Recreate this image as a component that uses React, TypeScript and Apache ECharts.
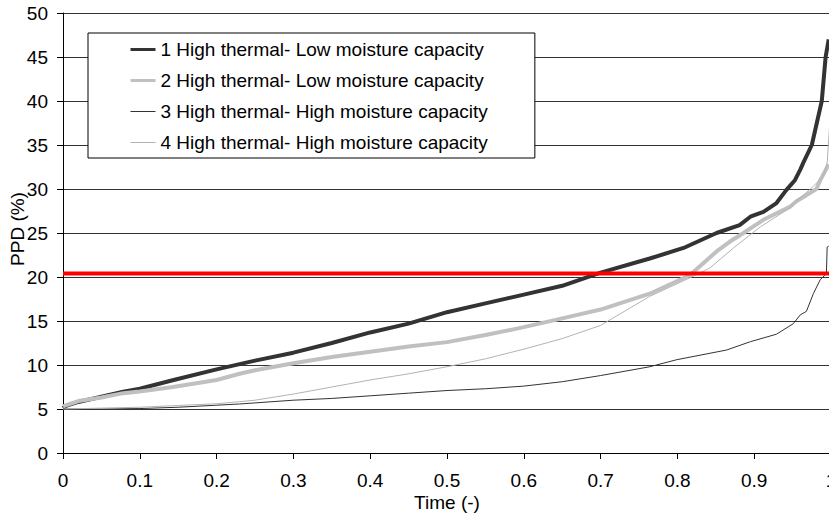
import React, { useEffect, useRef } from "react";
import * as echarts from "echarts";

const seriesNames = [
  "1 High thermal- Low moisture capacity",
  "2 High thermal- Low moisture capacity",
  "3 High thermal- High moisture capacity",
  "4 High thermal- High moisture capacity",
];

const time1 = [0, 0.005, 0.02, 0.05, 0.0785, 0.1, 0.144, 0.2, 0.23, 0.25, 0.3, 0.35, 0.4, 0.45, 0.5, 0.55, 0.6, 0.65, 0.7, 0.764, 0.808, 0.851, 0.881, 0.895, 0.912, 0.929, 0.942, 0.953, 0.96, 0.964, 0.975, 0.988, 0.993, 0.997];
const ppd1 = [5.1, 5.4, 5.8, 6.4, 6.97, 7.3, 8.3, 9.5, 10.1, 10.5, 11.4, 12.5, 13.7, 14.7, 16.0, 17.0, 18.0, 19.0, 20.5, 22.1, 23.3, 25.0, 25.9, 26.85, 27.4, 28.4, 29.9, 31.0, 32.2, 33.0, 35.0, 40.0, 45.0, 47.0];

const time2 = [0, 0.02, 0.05, 0.0785, 0.1, 0.143, 0.2, 0.23, 0.25, 0.3, 0.35, 0.4, 0.45, 0.5, 0.55, 0.6, 0.65, 0.7, 0.764, 0.816, 0.851, 0.868, 0.886, 0.912, 0.947, 0.955, 0.981, 0.986, 0.997];
const ppd2 = [5.3, 5.9, 6.3, 6.8, 7.0, 7.5, 8.3, 9.0, 9.4, 10.2, 10.9, 11.5, 12.1, 12.6, 13.4, 14.3, 15.3, 16.3, 18.1, 20.2, 22.9, 24.0, 25.0, 26.5, 28.0, 28.6, 30.0, 31.0, 32.8];

const time3 = [0, 0.05, 0.1, 0.15, 0.23, 0.3, 0.35, 0.4, 0.45, 0.5, 0.55, 0.6, 0.65, 0.7, 0.764, 0.799, 0.864, 0.895, 0.929, 0.951, 0.96, 0.968, 0.977, 0.986, 0.992, 0.994, 0.995, 0.997];
const ppd3 = [5.0, 5.0, 5.05, 5.2, 5.57, 6.0, 6.2, 6.5, 6.8, 7.1, 7.3, 7.6, 8.1, 8.8, 9.8, 10.6, 11.7, 12.65, 13.5, 14.7, 15.7, 16.1, 18.1, 19.7, 20.2, 20.4, 23.4, 23.5];

const time4 = [0, 0.05, 0.1, 0.15, 0.2, 0.23, 0.25, 0.3, 0.35, 0.4, 0.45, 0.5, 0.55, 0.6, 0.65, 0.7, 0.764, 0.816, 0.842, 0.873, 0.908, 0.942, 0.977, 0.99, 0.995, 0.998];
const ppd4 = [5.0, 5.1, 5.2, 5.4, 5.6, 5.83, 6.0, 6.7, 7.5, 8.3, 9.0, 9.8, 10.7, 11.8, 13.0, 14.5, 17.8, 19.9, 21.0, 23.3, 25.7, 27.6, 30.3, 31.5, 33.0, 37.0];

const limitTime = [0, 1];
const limitPPD = [20.4, 20.4];

const seriesColors = ["#333333", "#c0c0c0", "#333333", "#b3b3b3"];
const seriesWidths = [4, 4, 1, 1];
const legendWidths = [3, 3, 1, 1];

const times = [time1, time2, time3, time4];
const values = [ppd1, ppd2, ppd3, ppd4];

const FONT = "Liberation Sans, Arial, sans-serif";

export default function App() {
  const ref = useRef<HTMLDivElement>(null);

  useEffect(() => {
    if (!ref.current) return;
    const chart = echarts.init(ref.current, undefined, { renderer: "svg" });
    const lineSeries = seriesNames.map((name, i) => ({
      name,
      type: "line",
      data: times[i].map((t, j) => [t, values[i][j]]),
      symbol: "none",
      showSymbol: false,
      lineStyle: { color: seriesColors[i], width: seriesWidths[i] },
      itemStyle: { color: seriesColors[i] },
      silent: true,
      z: 2 + i,
    }));
    chart.setOption({
      animation: false,
      backgroundColor: "#ffffff",
      textStyle: { fontFamily: FONT },
      grid: { left: 63, right: 9, top: 13, bottom: 63, containLabel: false, outerBoundsMode: "none" },
      legend: {
        orient: "vertical",
        left: 88,
        top: 33,
        data: seriesNames.map((n, i) => ({
          name: n,
          lineStyle: { width: legendWidths[i] },
          itemStyle: { color: "rgba(0,0,0,0)", borderWidth: 0, opacity: 0 },
        })),
        itemWidth: 25,
        itemHeight: 14,
        itemGap: 12,
        padding: [7, 47, 6, 41],
        backgroundColor: "#ffffff",
        borderColor: "#000000",
        borderWidth: 1,
        borderRadius: 0,
        selectedMode: false,
        textStyle: { fontSize: 19, color: "#000", fontFamily: FONT },
        z: 10,
      },
      xAxis: {
        type: "value",
        min: 0,
        max: 1,
        interval: 0.1,
        name: "Time (-)",
        nameLocation: "middle",
        nameGap: 40,
        nameMoveOverlap: false,
        nameTextStyle: { fontSize: 19, color: "#000", fontFamily: FONT },
        axisLine: { show: true, lineStyle: { color: "#000", width: 1 } },
        axisTick: { show: true, length: 6, lineStyle: { color: "#000" } },
        axisLabel: {
          fontSize: 19,
          color: "#000",
          fontFamily: FONT,
          margin: 18,
          formatter: (v: number) => String(Math.round(v * 10) / 10),
        },
        splitLine: { show: false },
      },
      yAxis: {
        type: "value",
        min: 0,
        max: 50,
        interval: 5,
        name: "PPD (%)",
        nameLocation: "middle",
        nameGap: 36,
        nameMoveOverlap: false,
        nameTextStyle: { fontSize: 19, color: "#000", fontFamily: FONT, padding: [0, 0, 0, 8] },
        axisLine: { show: true, lineStyle: { color: "#000", width: 1 } },
        axisTick: { show: true, length: 6, lineStyle: { color: "#000" } },
        axisLabel: { fontSize: 19, color: "#000", fontFamily: FONT, margin: 15 },
        splitLine: { show: true, lineStyle: { color: "#333333", width: 1 } },
      },
      series: [
        ...lineSeries,
        {
          name: "limit",
          type: "line",
          data: limitTime.map((t, j) => [t, limitPPD[j]]),
          symbol: "none",
          lineStyle: { color: "#ff0000", width: 4 },
          itemStyle: { color: "#ff0000" },
          silent: true,
          z: 8,
        },
      ],
    });
    return () => chart.dispose();
  }, []);

  return (
    <div
      style={{
        position: "fixed",
        left: 0,
        top: 0,
        width: 829,
        height: 516,
        overflow: "hidden",
        background: "#fff",
      }}
    >
      <div ref={ref} style={{ width: 840, height: 516 }} />
    </div>
  );
}
